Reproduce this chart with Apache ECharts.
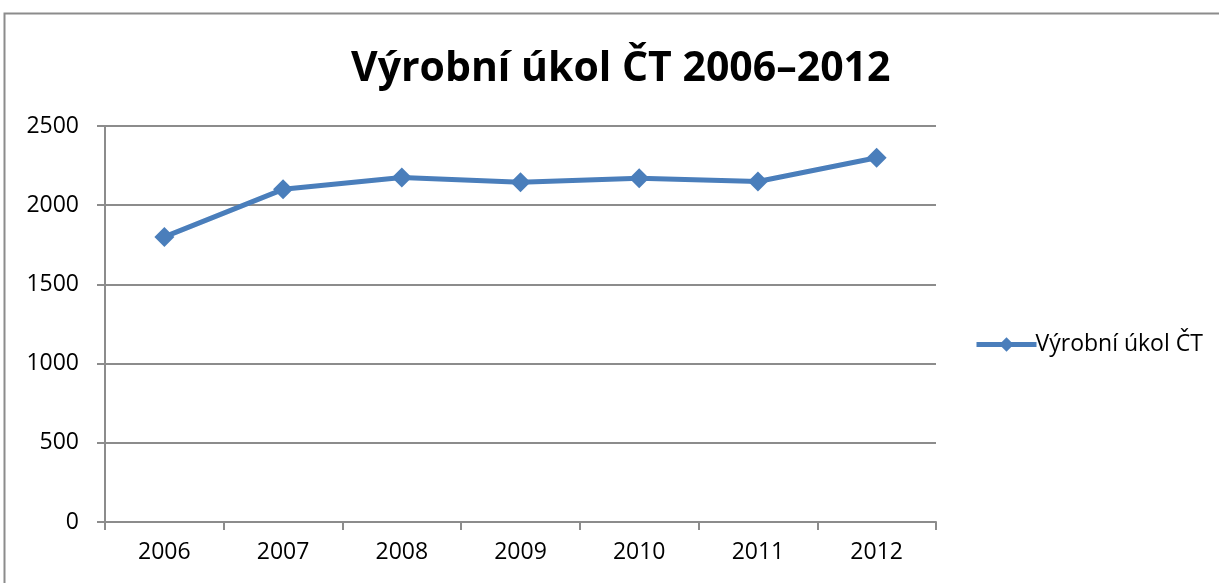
<!DOCTYPE html>
<html>
<head>
<meta charset="utf-8">
<script src="https://cdn.jsdelivr.net/npm/echarts@6/dist/echarts.min.js"></script>
<style>
  html, body { margin: 0; padding: 0; background: #fff; }
  #chart { width: 1219px; height: 583px; }
</style>
</head>
<body>
<div id="chart"></div>
<script>
const years = ['2006', '2007', '2008', '2009', '2010', '2011', '2012'];
const ukolValues = [1800, 2100, 2175, 2145, 2170, 2150, 2300];
const seriesName = 'Výrobní úkol ČT';
const titleText = 'Výrobní úkol ČT 2006–2012';

const chart = echarts.init(document.getElementById('chart'));
const font = 'Open Sans';

chart.setOption({
  animation: false,
  backgroundColor: '#fff',
  graphic: [{
    type: 'rect',
    shape: { x: 4.5, y: 13.5, width: 1400, height: 800 },
    style: { fill: 'none', stroke: '#8c8c8c', lineWidth: 2 },
    silent: true
  }],
  title: {
    text: titleText,
    left: 346,
    top: 44,
    textStyle: { fontFamily: font, fontWeight: 'bold', fontSize: 41, color: '#000' }
  },
  legend: {
    data: [seriesName],
    orient: 'vertical',
    left: 969,
    top: 328,
    itemWidth: 60,
    itemHeight: 18,
    textStyle: { fontFamily: font, fontSize: 23, color: '#000', padding: [0, 0, 0, -6] },
    lineStyle: { width: 5, color: '#4a7ebb' },
    itemStyle: { color: '#4a7ebb' }
  },
  grid: { left: 105, right: 283, top: 126, bottom: 61 },
  xAxis: {
    type: 'category',
    data: years,
    boundaryGap: true,
    axisLine: { lineStyle: { color: '#8c8c8c', width: 2 } },
    axisTick: { show: true, alignWithLabel: false, length: 8, lineStyle: { color: '#8c8c8c', width: 2 } },
    axisLabel: { fontFamily: font, fontSize: 23, color: '#000', margin: 19 },
    splitLine: { show: false }
  },
  yAxis: {
    type: 'value',
    min: 0,
    max: 2500,
    interval: 500,
    axisLine: { show: true, lineStyle: { color: '#8c8c8c', width: 2 } },
    axisTick: { show: true, inside: false, length: 8, lineStyle: { color: '#8c8c8c', width: 2 } },
    axisLabel: { fontFamily: font, fontSize: 23, color: '#000', margin: 26, formatter: v => String(v) },
    splitLine: { show: true, lineStyle: { color: '#8c8c8c', width: 2 } }
  },
  series: [{
    name: seriesName,
    type: 'line',
    data: ukolValues,
    symbol: 'diamond',
    symbolSize: 20,
    lineStyle: { color: '#4a7ebb', width: 5 },
    itemStyle: { color: '#4a7ebb' }
  }]
});
</script>
</body>
</html>
